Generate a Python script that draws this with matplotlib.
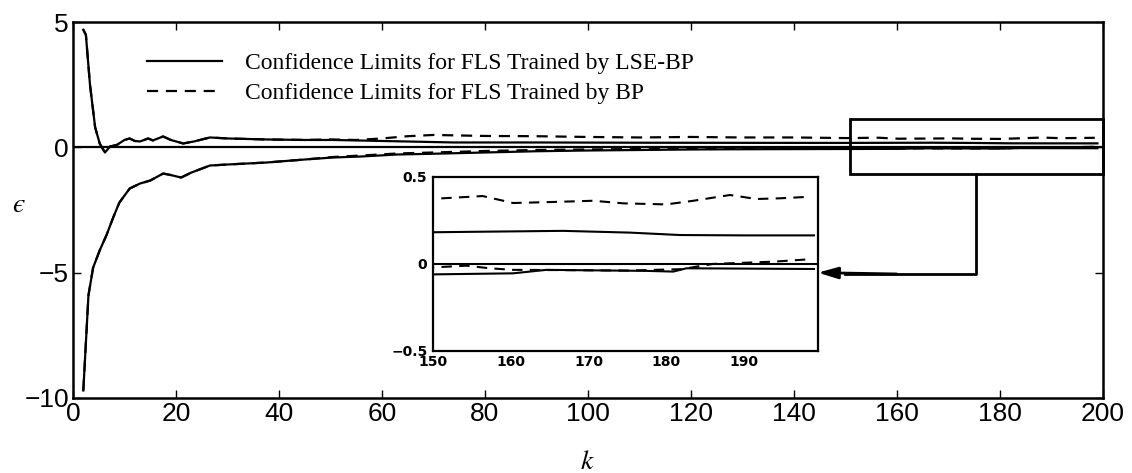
import numpy as np
import matplotlib
matplotlib.use("Agg")
import matplotlib.pyplot as plt
from matplotlib.patches import Rectangle

# ---- data: confidence limits of the estimation error vs. iteration k ----
k_lse_up = [2, 2.5, 3.3, 4.3, 5.2, 6.2, 7.2, 8.5, 10, 11, 12, 13, 14.6, 15.5, 17.5,
            19, 21.4, 23.5, 26.6, 30, 37.6, 45, 50.5, 60, 74, 90, 110, 130, 150,
            156, 166.7, 175.3, 181.8, 190, 199]
e_lse_up = [4.7, 4.5, 2.5, 0.8, 0.15, -0.2, 0.04, 0.1, 0.3, 0.36, 0.26, 0.24, 0.36, 0.28, 0.44,
            0.3, 0.16, 0.24, 0.4, 0.36, 0.32, 0.3, 0.3, 0.26, 0.2, 0.2, 0.19, 0.185, 0.182,
            0.185, 0.19, 0.18, 0.166, 0.164, 0.164]

k_lse_lo = [2, 3, 3.9, 5.2, 6.5, 7.8, 9, 11, 13, 15, 17.5, 19, 21, 23, 26.6, 30, 37.6,
            45, 50.5, 56, 63, 70, 80, 90, 100, 110, 120, 130, 140, 150, 160.3, 164.6,
            177.5, 180.9, 182.6, 199]
e_lse_lo = [-9.7, -5.9, -4.8, -4.1, -3.5, -2.8, -2.2, -1.64, -1.44, -1.32, -1.04, -1.1, -1.2,
            -1.0, -0.72, -0.68, -0.6, -0.48, -0.4, -0.36, -0.28, -0.25, -0.2, -0.15, -0.12,
            -0.1, -0.08, -0.07, -0.065, -0.06, -0.054, -0.034, -0.04, -0.044, -0.025, -0.029]

k_bp_up = [2, 2.5, 3.3, 4.3, 5.2, 6.2, 7.2, 8.5, 10, 11, 12, 13, 14.6, 15.5, 17.5,
           19, 21.4, 23.5, 26.6, 30, 37.6, 45, 50, 55, 60, 65, 70, 80, 90, 100, 110, 120,
           130, 140, 150.4, 156.4, 160.3, 166.3, 170.6, 174.5, 180, 183.5, 188.2, 191.6,
           194.6, 198.5]
e_bp_up = [4.7, 4.5, 2.5, 0.8, 0.15, -0.2, 0.04, 0.1, 0.3, 0.36, 0.26, 0.24, 0.36, 0.28, 0.44,
           0.3, 0.16, 0.24, 0.4, 0.36, 0.32, 0.3, 0.32, 0.3, 0.36, 0.45, 0.5, 0.46, 0.45, 0.42,
           0.4, 0.42, 0.4, 0.4, 0.375, 0.39, 0.35, 0.357, 0.363, 0.348, 0.342, 0.363, 0.396,
           0.373, 0.377, 0.386]

k_bp_lo = [2, 3, 3.9, 5.2, 6.5, 7.8, 9, 11, 13, 15, 17.5, 19, 21, 23, 26.6, 30, 37.6,
           45, 50.5, 56, 63, 70, 80, 90, 100, 110, 120, 130, 140, 150, 154.3, 157.3, 160.3,
           165, 175, 182, 186, 193.8, 198.5]
e_bp_lo = [-9.7, -5.9, -4.8, -4.1, -3.5, -2.8, -2.2, -1.64, -1.44, -1.32, -1.04, -1.1, -1.2,
           -1.0, -0.72, -0.68, -0.6, -0.48, -0.38, -0.32, -0.24, -0.2, -0.14, -0.1, -0.08,
           -0.06, -0.05, -0.04, -0.03, -0.02, -0.01, -0.025, -0.034, -0.035, -0.038, -0.03,
           0.0, 0.013, 0.027]

x_ticks = [0, 20, 40, 60, 80, 100, 120, 140, 160, 180, 200]
y_ticks = [-10, -5, 0, 5]
inset_x_ticks = [150, 160, 170, 180, 190]
inset_y_ticks = [-0.5, 0, 0.5]

legend_labels = ["Confidence Limits for FLS Trained by LSE-BP",
                 "Confidence Limits for FLS Trained by BP"]

plt.rcParams["mathtext.fontset"] = "stix"

# ---- figure ----
fig = plt.figure(figsize=(11.32, 4.73), dpi=100)
ax = fig.add_axes([0.0645, 0.1586, 0.9095, 0.7944])

lw = 1.6
dash = (0, (5, 3.5))
l1, = ax.plot(k_lse_up, e_lse_up, color="black", lw=lw)
ax.plot(k_lse_lo, e_lse_lo, color="black", lw=lw)
l2, = ax.plot(k_bp_up, e_bp_up, color="black", lw=lw, linestyle=dash)
ax.plot(k_bp_lo, e_bp_lo, color="black", lw=lw, linestyle=dash)
ax.axhline(0, color="black", lw=1.6)

ax.set_xlim(0, 200)
ax.set_ylim(-10, 5)
ax.set_xticks(x_ticks)
ax.set_yticks(y_ticks)
ax.set_yticklabels(["\u221210", "\u22125", "0", "5"])
ax.tick_params(direction="in", length=6, width=1, top=True, right=True,
               labelsize=19, pad=3)
for lab in ax.get_xticklabels() + ax.get_yticklabels():
    lab.set_fontfamily("Liberation Sans")
for sp in ax.spines.values():
    sp.set_linewidth(1.8)

ax.set_xlabel(r"$k$", fontsize=20)
ax.xaxis.set_label_coords(0.5, -0.13)
ax.set_ylabel("$\u03f5$", fontsize=20, rotation=0)
ax.yaxis.set_label_coords(-0.053, 0.48)

leg = ax.legend([l1, l2], legend_labels, loc="upper left",
                bbox_to_anchor=(0.051, 0.975), frameon=False, handlelength=3.2,
                handletextpad=0.95, labelspacing=0.35,
                prop={"family": "Liberation Serif", "size": 17})

# zoom region box on the main axes
ax.add_patch(Rectangle((151, -1.05), 49, 2.2, fill=False, lw=2, ec="black",
                       clip_on=False, zorder=5))

# ---- inset: detail of k in [150, 200] ----
axin = fig.add_axes([0.3825, 0.258, 0.340, 0.368])
axin.plot(k_lse_up, e_lse_up, color="black", lw=1.5)
axin.plot(k_lse_lo, e_lse_lo, color="black", lw=1.5)
axin.plot(k_bp_up, e_bp_up, color="black", lw=1.5, linestyle=dash)
axin.plot(k_bp_lo, e_bp_lo, color="black", lw=1.5, linestyle=dash)
axin.axhline(0, color="black", lw=1.5)
axin.set_xlim(150, 199.5)
axin.set_ylim(-0.5, 0.5)
axin.set_xticks(inset_x_ticks)
axin.set_yticks(inset_y_ticks)
axin.set_yticklabels(["\u22120.5", "0", "0.5"])
axin.tick_params(length=0, labelsize=10, pad=3)
axin.tick_params(axis="y", pad=4)
for lab in axin.get_xticklabels() + axin.get_yticklabels():
    lab.set_fontfamily("DejaVu Sans")
    lab.set_fontweight("bold")
for sp in axin.spines.values():
    sp.set_linewidth(1.6)

# connector from the box to the inset
ax.plot([175.5, 175.5, 150], [-1.05, -5.05, -5.05], color="black", lw=2,
        clip_on=False, zorder=5)
ax.annotate("", xy=(199.5, -0.05), xycoords=axin.transData,
            xytext=(160, -5.05), textcoords=ax.transData,
            arrowprops=dict(arrowstyle="-|>,head_length=1.2,head_width=0.35",
                            color="black", lw=2, shrinkA=0, shrinkB=0))

fig.savefig("out.png", dpi=100)
